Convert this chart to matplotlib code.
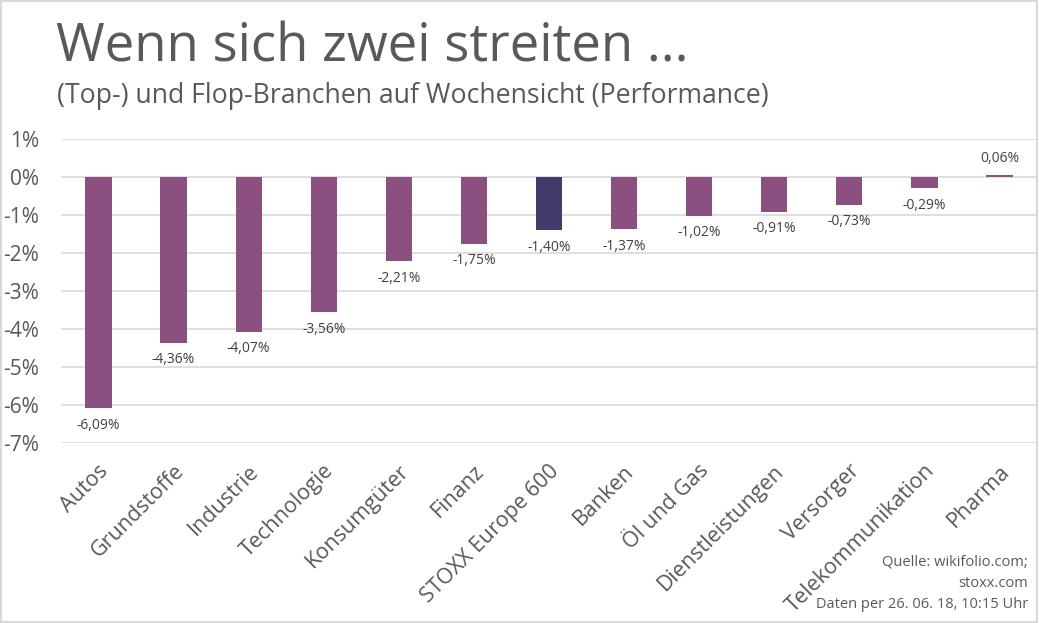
import matplotlib.pyplot as plt
import matplotlib.transforms as mtransforms
from matplotlib.patches import Rectangle

plt.rcParams["font.family"] = ["Open Sans", "DejaVu Sans"]

# Daten: Wochenperformance der Branchen (in %)
branchen = ["Autos", "Grundstoffe", "Industrie", "Technologie", "Konsumgüter",
            "Finanz", "STOXX Europe 600", "Banken", "Öl und Gas",
            "Dienstleistungen", "Versorger", "Telekommunikation", "Pharma"]
performance = [-6.09, -4.36, -4.07, -3.56, -2.21, -1.75, -1.40, -1.37,
               -1.02, -0.91, -0.73, -0.29, 0.06]
y_ticks = [1, 0, -1, -2, -3, -4, -5, -6, -7]

farbe_branche = "#8b4f80"
farbe_index = "#433b6b"
grau = "#595959"

fig = plt.figure(figsize=(10.39, 6.23), dpi=100)
ax = fig.add_axes([61 / 1039, 180 / 623, 976 / 1039, 304 / 623])

x = range(len(branchen))
farben = [farbe_index if b == "STOXX Europe 600" else farbe_branche for b in branchen]
ax.bar(x, performance, width=0.35, color=farben, zorder=3)

# Beschriftung der Balken
for i, v in enumerate(performance):
    txt = f"{v:.2f}".replace(".", ",") + "%"
    if v < 0:
        ax.annotate(txt, (i, v), xytext=(0, -7), textcoords="offset points",
                    ha="center", va="top", fontsize=10, color="#404040")
    else:
        ax.annotate(txt, (i, v), xytext=(0, 6), textcoords="offset points",
                    ha="center", va="bottom", fontsize=10, color="#404040")

ax.set_xlim(-0.5, len(branchen) - 0.5)
ax.set_ylim(-7, 1)
ax.set_yticks(y_ticks)
ax.set_yticklabels([f"{t}%" for t in y_ticks], fontsize=15, color=grau)
ax.set_xticks(list(x))
ax.set_xticklabels(branchen, rotation=45, ha="right", va="center",
                   rotation_mode="anchor", fontsize=15.5, color=grau)
ax.tick_params(axis="both", length=0)
ax.tick_params(axis="y", pad=16)
ax.tick_params(axis="x", pad=18)
# Beschriftungen etwas nach rechts schieben
versatz = mtransforms.ScaledTranslation(5 / 72, 0, fig.dpi_scale_trans)
for lbl in ax.get_xticklabels():
    lbl.set_transform(lbl.get_transform() + versatz)
ax.grid(axis="y", color="#d9d9d9", linewidth=1.2, zorder=0)
for s in ax.spines.values():
    s.set_visible(False)

# Titel und Untertitel
fig.text(56 / 1039, 1 - 61 / 623, "Wenn sich zwei streiten ...", fontsize=38,
         color=grau, va="baseline")
fig.text(57 / 1039, 1 - 103 / 623,
         "(Top-) und Flop-Branchen auf Wochensicht (Performance)",
         fontsize=19.2, color=grau, va="baseline")

# Quelle
fig.text(1028 / 1039, 1 - 554 / 623, "Quelle: wikifolio.com;\nstoxx.com\nDaten per 26. 06. 18, 10:15 Uhr",
         fontsize=10.5, color=grau, ha="right", va="top", linespacing=1.6)

# Rahmen
fig.patches.append(Rectangle((0.001, 0.002), 0.997, 0.996, transform=fig.transFigure,
                             fill=False, edgecolor="#d9d9d9", linewidth=1.5))

plt.savefig("out.png", dpi=100)
